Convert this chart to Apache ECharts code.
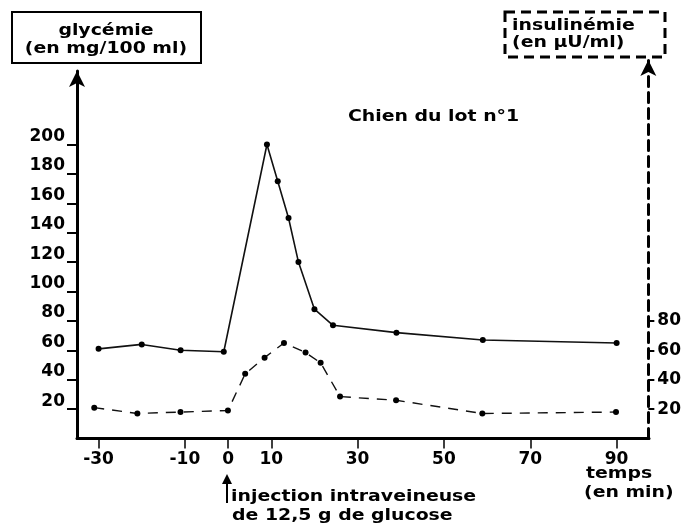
<!DOCTYPE html>
<html>
<head>
<meta charset="utf-8">
<script src="https://cdn.jsdelivr.net/npm/echarts@6/dist/echarts.min.js"></script>
<style>
  html, body { margin: 0; padding: 0; background: #fff; }
  #chart { width: 684px; height: 524px; }
</style>
</head>
<body>
<div id="chart"></div>
<script>
// glycémie (mg/100 ml) en fonction du temps (min)
var glyTime = [-30, -20, -11, -1, 9, 11.5, 14, 16.3, 20, 24.3, 39, 59, 90];
var glyValue = [61, 64, 60, 59, 200, 175, 150, 120, 88, 77, 72, 67, 65];

// insulinémie (µU/ml)
var insTime = [-31, -21, -11, 0, 4, 8.5, 13, 18, 21.5, 26, 39, 59, 90];
var insValue = [21, 17, 18, 19, 44, 55, 65, 58.5, 51.5, 28.5, 26, 17, 18];

var xTicks = [-30, -10, 0, 10, 30, 50, 70, 90];
var glyTicks = [20, 40, 60, 80, 100, 120, 140, 160, 180, 200];
var insTicks = [20, 40, 60, 80];

function zip(xs, ys) {
  return xs.map(function (x, i) { return [x, ys[i]]; });
}

var FONT = '"DejaVu Sans", Verdana, sans-serif';
var labelFont = { color: '#000', fontFamily: FONT, fontWeight: 'bold', fontSize: 17 };

function txt(x, y, s, align) {
  return {
    type: 'text', x: x, y: y, scaleX: 1.18,
    style: {
      text: s, fill: '#000', align: align || 'left', verticalAlign: 'middle',
      font: 'bold 16px ' + FONT
    }
  };
}

var chart = echarts.init(document.getElementById('chart'));

var option = {
  animation: false,
  backgroundColor: '#fff',
  grid: [
    { left: 77, right: 35, top: 71, bottom: 85.5 },
    { left: 77, right: 35, top: 60, bottom: 85.5 }
  ],
  xAxis: [
    {
      gridIndex: 0, type: 'value', min: -35, max: 97.5,
      axisLine: { onZero: false, lineStyle: { color: '#000', width: 3 } },
      axisTick: { customValues: xTicks, length: 10, lineStyle: { color: '#000', width: 1.5 } },
      axisLabel: Object.assign({ customValues: xTicks, margin: 13 }, labelFont),
      splitLine: { show: false }
    },
    { gridIndex: 1, type: 'value', min: -35, max: 97.5, show: false }
  ],
  yAxis: [
    {
      gridIndex: 0, type: 'value', min: 0, max: 250, position: 'left',
      axisLine: {
        show: true, onZero: false, symbol: ['none', 'arrow'], symbolSize: [12, 16],
        lineStyle: { color: '#000', width: 3 }
      },
      axisTick: { show: true, customValues: glyTicks, length: 10, lineStyle: { color: '#000', width: 2 } },
      axisLabel: Object.assign({ customValues: glyTicks, margin: 12, verticalAlign: 'bottom', lineHeight: 16 }, labelFont),
      splitLine: { show: false }
    },
    {
      gridIndex: 1, type: 'value', min: 0, max: 257.5, position: 'right',
      axisLine: {
        show: true, onZero: false, symbol: ['none', 'arrow'], symbolSize: [12, 16],
        lineStyle: { color: '#000', width: 3, type: [10, 6] }
      },
      axisTick: { show: true, customValues: insTicks, length: 6, lineStyle: { color: '#000', width: 2 } },
      axisLabel: Object.assign({ customValues: insTicks, margin: 9, padding: [0, 0, 4, 0] }, labelFont),
      splitLine: { show: false }
    }
  ],
  series: [
    {
      name: 'glycémie', type: 'line', xAxisIndex: 0, yAxisIndex: 0,
      data: zip(glyTime, glyValue),
      symbol: 'circle', symbolSize: 6,
      itemStyle: { color: '#000' },
      lineStyle: { color: '#111', width: 1.6 }
    },
    {
      name: 'insulinémie', type: 'line', xAxisIndex: 1, yAxisIndex: 1,
      data: zip(insTime, insValue),
      symbol: 'circle', symbolSize: 6,
      itemStyle: { color: '#000' },
      lineStyle: { color: '#111', width: 1.4, type: [10, 8] }
    }
  ],
  graphic: [
    { type: 'rect', shape: { x: 12, y: 12, width: 189, height: 51 },
      style: { fill: '#fff', stroke: '#000', lineWidth: 2 } },
    txt(106, 31, 'glycémie', 'center'),
    txt(106, 49, '(en mg/100 ml)', 'center'),
    { type: 'rect', shape: { x: 505, y: 12, width: 160, height: 45 },
      style: { fill: '#fff', stroke: '#000', lineWidth: 3, lineDash: [10, 6] } },
    txt(512, 26, 'insulinémie'),
    txt(512, 43, '(en μU/ml)'),
    txt(348, 117, 'Chien du lot n°1'),
    txt(586, 474, 'temps'),
    txt(584, 493, '(en min)'),
    txt(231, 497, 'injection intraveineuse'),
    txt(232, 516, 'de 12,5 g de glucose'),
    { type: 'line', shape: { x1: 227, y1: 503, x2: 227, y2: 478 },
      style: { stroke: '#000', lineWidth: 2 } },
    { type: 'polygon', shape: { points: [[227, 474], [222, 484], [232, 484]] },
      style: { fill: '#000' } }
  ]
};

chart.setOption(option);
</script>
</body>
</html>
